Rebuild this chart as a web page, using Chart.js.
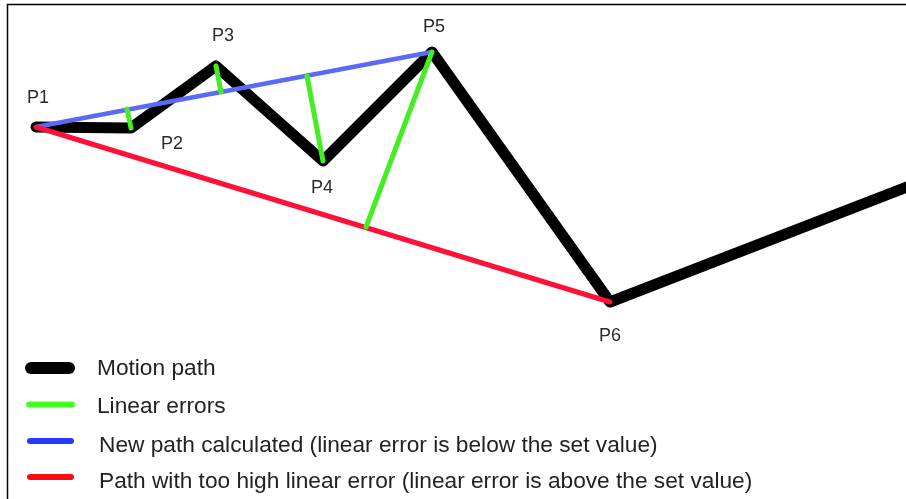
<!DOCTYPE html>
<html>
<head>
<meta charset="utf-8">
<script src="https://cdn.jsdelivr.net/npm/chart.js@4.4.1/dist/chart.umd.min.js"></script>
<style>
  html, body { margin: 0; padding: 0; background: #fff; }
  #wrap { position: relative; width: 906px; height: 499px; }
</style>
</head>
<body>
<div id="wrap"><canvas id="pathChart"></canvas></div>
<script>
// Diagram data, drawing units (y grows downwards)
var pointNames = ['P1', 'P2', 'P3', 'P4', 'P5', 'P6'];
var pathX = [36, 131, 216, 323, 432, 610, 930];
var pathY = [127, 128, 66, 161, 52, 302, 178];

// linear errors: from a path point to the straight line
var errorFrom = [1, 2, 3, 4];
var errorToX = [127, 221, 307, 366];
var errorToY = [109, 92, 76, 227];

// straight paths between two path points
var newPathIdx = [0, 4];
var badPathIdx = [0, 5];

var legendLabels = [
    'Motion path',
    'Linear errors',
    'New path calculated (linear error is below the set value)',
    'Path with too high linear error (linear error is above the set value)'
];

function pts(idx) {
    return idx.map(function(i) { return { x: pathX[i], y: pathY[i] }; });
}

var datasets = [];
// green error lines on top
errorFrom.forEach(function(p, i) {
    datasets.push({
        label: 'err' + i,
        data: [{ x: pathX[p], y: pathY[p] }, { x: errorToX[i], y: errorToY[i] }],
        borderColor: '#44ee22',
        borderWidth: 5,
        borderCapStyle: 'round',
        order: 0
    });
});
datasets.push({
    label: 'bad',
    data: pts(badPathIdx),
    borderColor: '#ff1038',
    borderWidth: 5,
    borderCapStyle: 'round',
    order: 1
});
datasets.push({
    label: 'new',
    data: pts(newPathIdx),
    borderColor: '#5a6af8',
    borderWidth: 4.5,
    borderCapStyle: 'round',
    order: 2
});
datasets.push({
    label: 'motion',
    data: pathX.map(function(x, i) { return { x: x, y: pathY[i] }; }),
    borderColor: '#000',
    borderWidth: 11,
    borderCapStyle: 'round',
    borderJoinStyle: 'round',
    order: 3
});
datasets.forEach(function(d) {
    d.showLine = true;
    d.pointRadius = 0;
    d.pointHoverRadius = 0;
    d.tension = 0;
});

// label offsets from the point (x centre, text baseline)
var labelOffsets = [[2, -24], [41, 21], [7, -25], [-1, 32], [2, -20], [0, 39]];
var legendStyle = [
    { color: '#000', width: 12, x0: 31, x1: 69, y: 368, tx: 97, ty: 375 },
    { color: '#44ff22', width: 6, x0: 29, x1: 72, y: 404.5, tx: 97, ty: 413 },
    { color: '#2838ff', width: 6, x0: 30, x1: 71, y: 441, tx: 99, ty: 452 },
    { color: '#ff0a14', width: 6, x0: 30, x1: 71, y: 477, tx: 99, ty: 488 }
];

var diagramPlugin = {
    id: 'diagram',
    afterDraw: function(chart) {
        var ctx = chart.ctx;
        ctx.save();
        // frame
        ctx.strokeStyle = '#000';
        ctx.lineWidth = 1.5;
        ctx.beginPath();
        ctx.moveTo(906, 4.5);
        ctx.lineTo(7.5, 4.5);
        ctx.lineTo(7.5, 499);
        ctx.stroke();

        // point names
        var meta = chart.getDatasetMeta(chart.data.datasets.length - 1);
        ctx.fillStyle = '#2a2a2a';
        ctx.font = '18px "Liberation Sans", Arial, sans-serif';
        ctx.textAlign = 'center';
        ctx.textBaseline = 'alphabetic';
        pointNames.forEach(function(name, i) {
            var el = meta.data[i];
            ctx.fillText(name, el.x + labelOffsets[i][0], el.y + labelOffsets[i][1]);
        });

        // legend
        ctx.textAlign = 'left';
        ctx.font = '22.7px "Liberation Sans", Arial, sans-serif';
        ctx.lineCap = 'round';
        legendLabels.forEach(function(txt, i) {
            var s = legendStyle[i];
            ctx.strokeStyle = s.color;
            ctx.lineWidth = s.width;
            ctx.beginPath();
            ctx.moveTo(s.x0, s.y);
            ctx.lineTo(s.x1, s.y);
            ctx.stroke();
            ctx.fillStyle = '#222';
            ctx.fillText(txt, s.tx, s.ty);
        });
        ctx.restore();
    }
};

new Chart(document.getElementById('pathChart').getContext('2d'), {
    type: 'scatter',
    data: { datasets: datasets },
    options: {
        responsive: true,
        maintainAspectRatio: false,
        animation: false,
        layout: { padding: 0 },
        plugins: {
            legend: { display: false },
            tooltip: { enabled: false }
        },
        scales: {
            x: { type: 'linear', min: 0, max: 906, display: false },
            y: { type: 'linear', min: 0, max: 499, reverse: true, display: false }
        }
    },
    plugins: [diagramPlugin]
});
</script>
</body>
</html>
